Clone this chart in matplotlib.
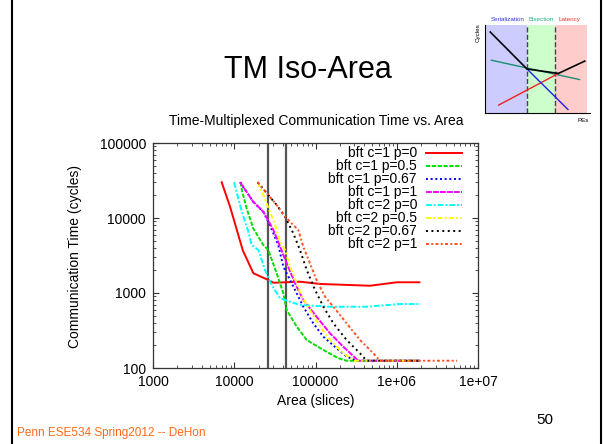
import numpy as np
import matplotlib.pyplot as plt
from matplotlib.ticker import FixedLocator, FixedFormatter, LogLocator, NullFormatter

plt.rcParams['font.family'] = ['Liberation Sans', 'DejaVu Sans']

# =========================================================
# Data
# =========================================================
red_x = [7000, 8870, 12700, 17200, 26300, 30300, 64400, 114000, 470000, 1.0e6, 1.9e6]
red_y = [30000, 14200, 3740, 1830, 1490, 1370, 1415, 1320, 1250, 1390, 1390]

green_x = [12000, 12400, 14200, 17100, 22800, 26200, 33300, 40200, 44200, 58700, 78000,
           125000, 191000, 242000, 1.9e6]
green_y = [30000, 23600, 13500, 7300, 4370, 3740, 1830, 991, 593, 356, 236, 174, 135, 125, 125]

blue_x = [11800, 17100, 22800, 26200, 30300, 34800, 40200, 48600, 58700, 70800, 94000,
          125000, 182000, 242000, 321000, 1.9e6]
blue_y = [30000, 16500, 12100, 8930, 6250, 4370, 2240, 1490, 991, 656, 394, 261, 183, 142,
          125, 125]

magenta_x = [11800, 17100, 22800, 30300, 34800, 44200, 56000, 70800, 103000, 151000,
             220000, 336000, 1.9e6]
magenta_y = [30000, 16500, 12100, 6920, 4790, 2490, 1350, 807, 483, 290, 192, 125, 125]

cyan_x = [9940, 12400, 14900, 16400, 19800, 23900, 28900, 36600, 48600, 64400, 151000,
          426000, 1.1e6, 1.93e6]
cyan_y = [30000, 12100, 6560, 4370, 3740, 2030, 1280, 850, 766, 692, 656, 656, 713, 713]

yellow_x = [19400, 22800, 27500, 31800, 36600, 42200, 48600, 58700, 67600, 85500, 114000,
            151000, 220000, 306000, 1.9e6]
yellow_y = [30000, 20300, 12100, 8070, 4830, 3740, 2240, 1350, 893, 593, 356, 236, 157, 125,
            125]

black_x = [19400, 26200, 33300, 42200, 53300, 64400, 78000, 98600, 125000, 166000, 242000,
           353000, 426000, 1.9e6]
black_y = [30000, 20300, 14900, 10400, 6250, 3740, 2030, 1100, 656, 394, 236, 157, 125, 125]

orange_x = [19400, 26200, 33300, 42200, 61400, 70800, 85500, 103000, 131000, 166000, 242000,
            353000, 515000, 622000, 5.5e6]
orange_y = [30000, 20300, 14900, 10400, 6920, 4140, 2490, 1490, 893, 656, 394, 236, 157, 125,
            125]

iso_area = [26000, 43000]

labels = ["bft c=1 p=0", "bft c=1 p=0.5", "bft c=1 p=0.67", "bft c=1 p=1",
          "bft c=2 p=0", "bft c=2 p=0.5", "bft c=2 p=0.67", "bft c=2 p=1"]

# schematic inset (arbitrary units)
inset_black_x = [0.05, 0.40, 0.70, 0.95]
inset_black_y = [0.92, 0.50, 0.45, 0.59]
inset_teal_x = [0.06, 0.90]
inset_teal_y = [0.60, 0.38]
inset_red_x = [0.13, 0.70]
inset_red_y = [0.09, 0.45]
inset_blue_x = [0.40, 0.79]
inset_blue_y = [0.50, 0.04]

# =========================================================
# Figure
# =========================================================
W, H = 604, 444
fig = plt.figure(figsize=(W / 100, H / 100), dpi=100)


def fx(px):
    return px / W


def fy(py):
    return 1 - py / H


# slide borders
fig.add_artist(plt.Line2D([fx(12), fx(12)], [0, 1], color="black", lw=1.5))
fig.add_artist(plt.Line2D([fx(601), fx(601)], [0, 1], color="black", lw=1.5))

fig.text(fx(308), fy(70), "TM Iso-Area", fontsize=22, ha="center", va="center")
fig.text(fx(17), fy(433), "Penn ESE534 Spring2012 -- DeHon", fontsize=8.5,
         color="#ff6a1a", ha="left", va="center")
fig.text(fx(545), fy(420), "50", fontsize=11, ha="center", va="center")

# ---------------- main chart ----------------
ax = fig.add_axes([fx(153), fy(368), fx(478) - fx(153), fy(143) - fy(368)])

series = [
    (red_x, red_y, "#ff0000", "-", None),
    (green_x, green_y, "#00dd00", "--", (2.2, 0.8)),
    (blue_x, blue_y, "#0000ff", ":", (1, 1.4)),
    (magenta_x, magenta_y, "#ff00ff", "-", (3, 0.6)),
    (cyan_x, cyan_y, "#00ffff", "-.", (3, 1, 1, 1)),
    (yellow_x, yellow_y, "#ffff00", "-.", (2.5, 1.2, 1, 1.2)),
    (black_x, black_y, "#000000", ":", (1, 1.8)),
    (orange_x, orange_y, "#ff5020", ":", (1.5, 1.2, 1, 1.2)),
]

for xs, ys, color, ls, dash in series:
    line, = ax.plot(xs, ys, color=color, lw=1.4, linestyle=ls, zorder=3)
    if dash is not None:
        line.set_dashes(dash)

for xv in iso_area:
    ax.axvline(xv, color="#555555", lw=1.6, zorder=2)

ax.set_xscale("log")
ax.set_yscale("log")
ax.set_xlim(1000, 1e7)
ax.set_ylim(100, 100000)

ax.xaxis.set_major_locator(FixedLocator([1e3, 1e4, 1e5, 1e6, 1e7]))
ax.xaxis.set_major_formatter(FixedFormatter(["1000", "10000", "100000", "1e+06", "1e+07"]))
ax.yaxis.set_major_locator(FixedLocator([1e2, 1e3, 1e4, 1e5]))
ax.yaxis.set_major_formatter(FixedFormatter(["100", "1000", "10000", "100000"]))
ax.xaxis.set_minor_locator(LogLocator(base=10, subs=np.arange(2, 10)))
ax.yaxis.set_minor_locator(LogLocator(base=10, subs=np.arange(2, 10)))
ax.xaxis.set_minor_formatter(NullFormatter())
ax.yaxis.set_minor_formatter(NullFormatter())

ax.tick_params(which="both", direction="in", top=True, right=True, labelsize=10,
               color="#333333")
ax.tick_params(which="major", length=4.5, width=0.8, pad=5)
ax.tick_params(which="minor", length=2.2, width=0.6)
for sp in ax.spines.values():
    sp.set_linewidth(0.9)
    sp.set_color("#333333")

fig.text(fx(316), fy(121), "Time-Multiplexed Communication Time vs. Area",
         fontsize=10, ha="center", va="center")
fig.text(fx(316), fy(401), "Area (slices)", fontsize=10, ha="center", va="center")
fig.text(fx(75), fy(256), "Communication Time (cycles)", fontsize=10, ha="center",
         va="center", rotation=90)

# legend (gnuplot style: right-aligned text, sample to the right)
for i, (lab, (xs, ys, color, ls, dash)) in enumerate(zip(labels, series)):
    yrow = 152.7 + 13.0 * i
    fig.text(fx(417), fy(yrow), lab, fontsize=10, ha="right", va="center")
    ln = plt.Line2D([fx(426), fx(462)], [fy(yrow), fy(yrow)], color=color, lw=1.4,
                    linestyle=ls)
    if dash is not None:
        ln.set_dashes(dash)
    fig.add_artist(ln)

# ---------------- schematic inset ----------------
iax = fig.add_axes([fx(485), fy(113), fx(590) - fx(485), fy(25) - fy(113)])
iax.set_xlim(0, 1)
iax.set_ylim(0, 1)
iax.axvspan(0.0, 0.40, color="#ccccff", lw=0)
iax.axvspan(0.40, 0.67, color="#ccffcc", lw=0)
iax.axvspan(0.67, 0.97, color="#ffcccc", lw=0)
iax.axvline(0.40, color="#444444", lw=1, ls="--")
iax.axvline(0.67, color="#444444", lw=1, ls="--")
iax.plot(inset_teal_x, inset_teal_y, color="#1a9070", lw=1)
iax.plot(inset_red_x, inset_red_y, color="#ee2020", lw=1)
iax.plot(inset_blue_x, inset_blue_y, color="#2020ee", lw=1)
iax.plot(inset_black_x, inset_black_y, color="black", lw=1.2)
iax.set_xticks([])
iax.set_yticks([])
iax.spines["top"].set_visible(False)
iax.spines["right"].set_visible(False)
iax.spines["left"].set_linewidth(0.8)
iax.spines["bottom"].set_linewidth(0.8)

fig.text(fx(508), fy(19.5), "Serialization", fontsize=4.5, color="#3030dd", ha="center",
         va="center")
fig.text(fx(541), fy(19.5), "Bisection", fontsize=4.5, color="#20b080", ha="center",
         va="center")
fig.text(fx(569), fy(19.5), "Latency", fontsize=4.5, color="#ee3030", ha="center",
         va="center")
fig.text(fx(478), fy(33), "Cycles", fontsize=4.5, rotation=90, ha="center", va="center")
fig.text(fx(583), fy(120), "PEs", fontsize=4.5, ha="center", va="center")

fig.savefig("out.png", dpi=100)
